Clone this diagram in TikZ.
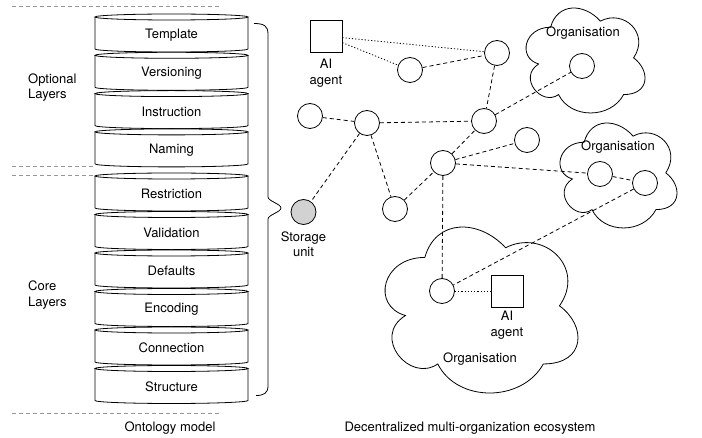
\documentclass[tikz,border=0pt]{standalone}
\usepackage{fontspec}
\setmainfont{TeX Gyre Heros}
\definecolor{sepgray}{RGB}{150,150,150}
\definecolor{storegray}{RGB}{210,210,210}
\tikzset{
  txt/.style={font=\fontsize{13}{15.5}\selectfont, align=center, inner sep=0pt},
  netnode/.style={circle, draw, line width=0.8pt, minimum size=25pt, inner sep=0pt, fill=white},
  agentbox/.style={draw, line width=0.8pt, minimum size=32pt, inner sep=0pt, fill=white},
  link/.style={line width=0.8pt, dash pattern=on 4pt off 3pt},
  dotlink/.style={line width=0.8pt, dash pattern=on 1.2pt off 2pt},
  sepline/.style={draw=sepgray, line width=0.8pt, dash pattern=on 4pt off 3pt},
  shapeline/.style={line width=0.8pt},
}
\newcommand{\cylseg}[3]{%
  \fill[white] (95,{#1+3}) -- (95,{#1+35}) arc[start angle=180, end angle=360, x radius=76.5pt, y radius=3pt] -- (248,{#1+3}) -- cycle;
  \draw[shapeline] (95,{#1+3}) -- (95,{#1+35}) arc[start angle=180, end angle=360, x radius=76.5pt, y radius=3pt] -- (248,{#1+3});
  \filldraw[shapeline, fill=white] (171.5,{#1+3}) ellipse[x radius=76.5pt, y radius=3pt];
  \node[txt] (#2) at (171.5,{#1+21}) {#3};
}
\newcommand{\orgcloud}[4]{%
  \draw[shapeline, fill=white] ({#1+.25*#3},{#2+.25*#4})
   .. controls ({#1+.05*#3},{#2+.25*#4}) and ({#1},{#2+.5*#4}) .. ({#1+.16*#3},{#2+.55*#4})
   .. controls ({#1},{#2+.66*#4}) and ({#1+.18*#3},{#2+.9*#4}) .. ({#1+.31*#3},{#2+.8*#4})
   .. controls ({#1+.4*#3},{#2+#4}) and ({#1+.7*#3},{#2+#4}) .. ({#1+.8*#3},{#2+.8*#4})
   .. controls ({#1+#3},{#2+.8*#4}) and ({#1+#3},{#2+.6*#4}) .. ({#1+.875*#3},{#2+.5*#4})
   .. controls ({#1+#3},{#2+.3*#4}) and ({#1+.8*#3},{#2+.1*#4}) .. ({#1+.625*#3},{#2+.2*#4})
   .. controls ({#1+.5*#3},{#2+.05*#4}) and ({#1+.3*#3},{#2+.05*#4}) .. ({#1+.25*#3},{#2+.25*#4}) -- cycle;
}
\begin{document}
\begin{tikzpicture}[x=1pt, y=-1pt]
\useasboundingbox (0,0) rectangle (702,438);
\fill[white] (0,0) rectangle (702,438);

% separators
\draw[sepline] (12,6) -- (220,6);
\draw[sepline] (12,166) -- (95,166);
\draw[sepline] (12,175) -- (95,175);
\draw[sepline] (12,413) -- (220,413);

% layer stack
\cylseg{14}{ltemplate}{Template}
\cylseg{52.3}{lversion}{Versioning}
\cylseg{90.6}{linstr}{Instruction}
\cylseg{128.9}{lnaming}{Naming}
\cylseg{173}{lrestr}{Restriction}
\cylseg{211.5}{lvalid}{Validation}
\cylseg{250}{ldefaults}{Defaults}
\cylseg{288.5}{lencoding}{Encoding}
\cylseg{327}{lconn}{Connection}
\cylseg{365.5}{lstruct}{Structure}

\node[txt, align=left, anchor=west] (optlab) at (28,87.5) {Optional\\Layers};
\node[txt, align=left, anchor=west] (corelab) at (28,295) {Core\\Layers};
\node[txt] (ontlab) at (170,428) {Ontology model};

% brace
\draw[shapeline] (254,23.5) .. controls (264,23.5) and (268,26) .. (268,34)
  -- (268,197) .. controls (268,201) and (281,204) .. (281,208)
  .. controls (281,212) and (268,215) .. (268,219)
  -- (268,386) .. controls (268,393) and (264,395.5) .. (256,395.5);

% clouds
\orgcloud{517.4}{-3.4}{132.8}{122.5}
\orgcloud{551.5}{111.6}{130.6}{122.5}
\orgcloud{371}{209}{215.4}{193.7}
\node[txt] (org1) at (583,33) {Organisation};
\node[txt] (org2) at (618,147) {Organisation};
\node[txt] (org3) at (480,359) {Organisation};

% nodes
\node[agentbox] (ag1) at (326,36) {};
\node[txt] (ag1lab) at (326,73) {AI\\agent};
\node[netnode] (na) at (410,70) {};
\node[netnode] (nb) at (497,53) {};
\node[netnode] (nc) at (310,116) {};
\node[netnode] (nd) at (367,123) {};
\node[netnode] (ne) at (484,121) {};
\node[netnode] (nf) at (443,163) {};
\node[netnode] (ng) at (395,209) {};
\node[netnode, fill=storegray] (ns) at (303.5,212) {};
\node[txt] (nslab) at (303.5,244) {Storage\\unit};
\node[netnode] (nh) at (527,140) {};
\node[netnode] (no1) at (582,66) {};
\node[netnode] (no2a) at (600,174) {};
\node[netnode] (no2b) at (645,183) {};
\node[netnode] (ni) at (442,291) {};
\node[agentbox] (ag2) at (507,291) {};
\node[txt] (ag2lab) at (507,325) {AI\\agent};

% connectors
\draw[dotlink] (ag1) -- (nb);
\draw[dotlink] (ag1) -- (na);
\draw[dotlink] (ni) -- (ag2);
\draw[link] (na) -- (nb);
\draw[link] (nb) -- (ne);
\draw[link] (nc) -- (nd);
\draw[link] (nd) -- (ne);
\draw[link] (nd) -- (ns);
\draw[link] (nd) -- (ng);
\draw[link] (ng) -- (nf);
\draw[link] (nf) -- (ne);
\draw[link] (ne) -- (no1);
\draw[link] (nf) -- (nh);
\draw[link] (nf) -- (no2a);
\draw[link] (no2a) -- (no2b);
\draw[link] (no2b) -- (ni);
\draw[link] (nf) -- (ni);

\node[txt] (ecolab) at (470,428) {Decentralized multi-organization ecosystem};
\end{tikzpicture}
\end{document}
